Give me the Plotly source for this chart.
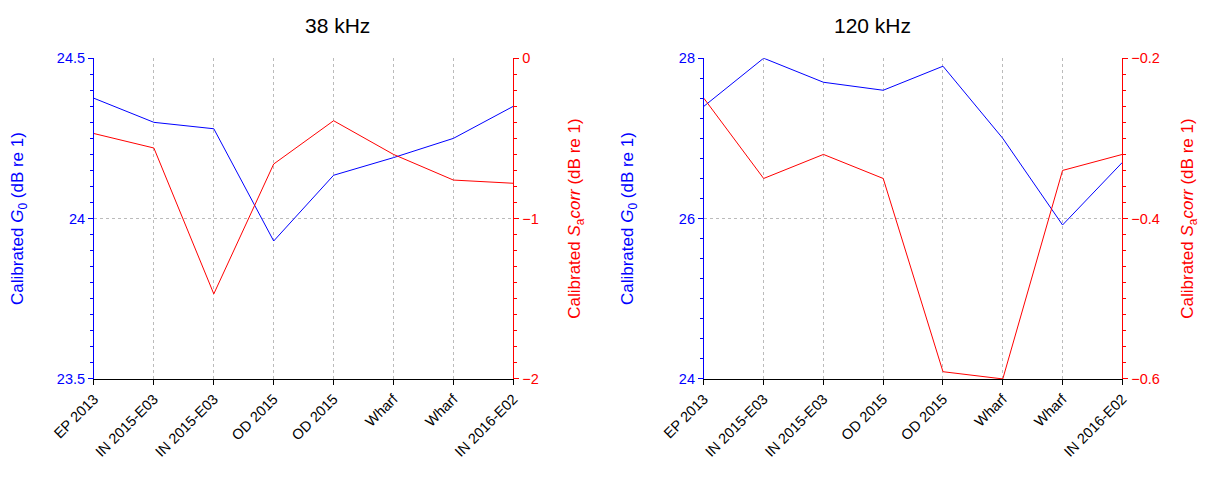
import plotly.graph_objects as go

cats = ["EP 2013","IN 2015-E03","IN 2015-E03","OD 2015","OD 2015","Wharf","Wharf","IN 2016-E02"]
g38 = [24.375,24.30,24.28,23.93,24.135,24.19,24.25,24.35]
s38 = [-0.47,-0.56,-1.47,-0.66,-0.39,-0.60,-0.76,-0.78]
g120 = [27.4,28.0,27.7,27.6,27.9,27.0,25.92,26.7]
s120 = [-0.25,-0.35,-0.32,-0.35,-0.591,-0.6,-0.34,-0.32]
xs = list(range(len(cats)))

fig = go.Figure()
fig.add_trace(go.Scatter(x=xs,y=g38,mode="lines",line=dict(color="blue",width=1),xaxis="x",yaxis="y"))
fig.add_trace(go.Scatter(x=xs,y=s38,mode="lines",line=dict(color="red",width=1),xaxis="x",yaxis="y2"))
fig.add_trace(go.Scatter(x=xs,y=g120,mode="lines",line=dict(color="blue",width=1),xaxis="x2",yaxis="y3"))
fig.add_trace(go.Scatter(x=xs,y=s120,mode="lines",line=dict(color="red",width=1),xaxis="x2",yaxis="y4"))

F = dict(family="Liberation Sans, Arial", size=14)
YD = [0.224, 0.895]
def xax(dom, anchor):
    return dict(domain=dom, anchor=anchor, range=[0,7], tickvals=xs, ticktext=cats, tickangle=-45,
                showline=True, linecolor="black", ticks="outside", tickcolor="black", automargin=False,
                showgrid=True, gridcolor="#bbbbbb", griddash="dot", gridwidth=1, zeroline=False,
                tickfont=dict(size=14.5, color="black"))
def yax(col, rng, dt, mdt, title, side="left", overlay=None, anchor=None, grid=False, standoff=20):
    d = dict(range=rng, dtick=dt, tick0=rng[0], side=side, anchor=anchor, showline=True, linecolor=col,
             ticks="outside", tickcolor=col, tickfont=dict(color=col, size=14.5), automargin=False,
             title=dict(text=title, font=dict(color=col, size=17), standoff=standoff), zeroline=False,
             showgrid=grid, gridcolor="#bbbbbb", griddash="dot",
             minor=dict(dtick=mdt, ticks="outside", ticklen=3, tickcolor=col, showgrid=False))
    if overlay: d["overlaying"] = overlay
    d["domain"] = YD
    return d

lG = "Calibrated <i>G</i><sub>0</sub> (dB re 1)"
lS = "Calibrated <i>S</i><sub>a</sub><i>corr</i> (dB re 1)"
fig.update_layout(
    width=1206, height=478, margin=dict(l=0,r=0,t=0,b=0), showlegend=False,
    plot_bgcolor="white", paper_bgcolor="white", font=F,
    xaxis=xax([0.0713,0.419],"y"),
    xaxis2=xax([0.577,0.924],"y3"),
    yaxis=yax("blue",[23.5,24.5],0.5,0.05,lG,anchor="x",grid=True,standoff=30),
    yaxis2=yax("red",[-2,0],1,0.1,lS,side="right",overlay="y",anchor="x",standoff=30),
    yaxis3=yax("blue",[24,28],2,0.25,lG,anchor="x2",grid=True,standoff=40),
    yaxis4=yax("red",[-0.6,-0.2],0.2,0.02,lS,side="right",overlay="y3",anchor="x2",standoff=22),
    annotations=[
        dict(text="38 kHz",x=0.245,y=0.935,xref="paper",yref="paper",showarrow=False,yanchor="bottom",font=dict(size=21,color="black")),
        dict(text="120 kHz",x=0.75,y=0.935,xref="paper",yref="paper",showarrow=False,yanchor="bottom",font=dict(size=21,color="black")),
    ])
fig.write_html("out.html")
